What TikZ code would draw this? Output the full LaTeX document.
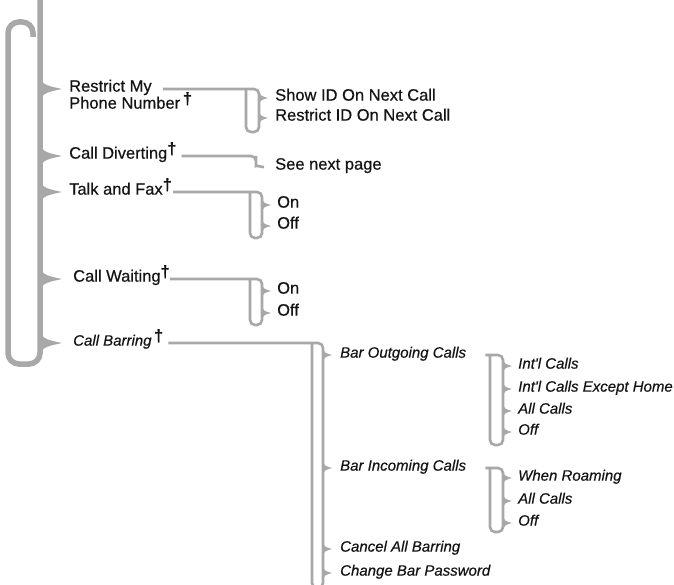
\documentclass[tikz,border=0pt]{standalone}
\usepackage{fontspec}
\setmainfont{Liberation Sans}[FakeBold=0.5]
\usepackage{tikz}
\usetikzlibrary{positioning}
\definecolor{menugray}{RGB}{168, 168, 168}
\definecolor{menutext}{RGB}{20, 20, 20}
\newcommand{\dg}{\raisebox{4.5pt}{\fontsize{16.5}{18}\selectfont\upshape\bfseries †}}
\tikzset{
  bigtip/.pic={\fill[menugray] (0,-12) .. controls (2,-4) and (8,-3) .. (22,0) .. controls (8,3) and (2,4) .. (0,12) -- cycle;},
  smalltip/.pic={\fill[menugray] (0,-7) .. controls (1,-2) and (3,-1.8) .. (9,0) .. controls (3,1.8) and (1,2) .. (0,7) -- cycle;}
}

\begin{document}
\begin{tikzpicture}[x=1pt, y=-1pt,
  every node/.style={anchor=mid west, inner sep=0pt, text=menutext},
  menu/.style={font=\fontsize{16.5}{18}\selectfont},
  submenu/.style={font=\fontsize{15}{17}\selectfont\itshape},
  spine/.style={draw=menugray, line width=5.5pt, rounded corners=11pt},
  branch/.style={draw=menugray, line width=2.6pt, rounded corners=5pt}]
  \useasboundingbox (0,0) rectangle (674,585);

  % main bracket
  \coordinate (sp) at (40,0);
  \draw[spine] (33,37) -- (33,22) -- (8,22) -- (8,364) -- (40,364) -- (40,-10);

  \node[menu] (rm) at (69,89) {Restrict My};
  \node[menu] (pn) at (69,106) {Phone Number\,\dg};
  \node[menu] (cd) at (69,156) {Call Diverting\dg};
  \node[menu] (tf) at (69,192) {Talk and Fax\dg};
  \node[menu] (cw) at (73,279) {Call Waiting\dg};
  \node[submenu] (cb) at (73,343) {Call Barring\,\dg};
  \foreach \n in {rm,cd,tf,cw,cb}
    \pic at (sp |- \n.mid west) {bigtip};

  % restrict my phone number
  \coordinate (b1) at (259,89);
  \draw[branch] ([xshift=11pt]rm.mid east) -- (b1) -- ++(0,43) -- ++(-13,0) -- ++(0,-42);
  \node[menu] (sid) at (275,98) {Show ID On Next Call};
  \node[menu] (rid) at (275,118) {Restrict ID On Next Call};
  \foreach \n in {sid,rid}
    \pic at (b1 |- \n.mid west) {smalltip};

  % call diverting
  \coordinate (b2) at (256,156);
  \node[menu] (snp) at (275,167) {See next page};
  \draw[branch] ([xshift=5pt]cd.mid east) -- (b2) -- ++(0,5) .. controls +(0,4) and +(-4,0) .. ([xshift=-11pt]snp.mid west);

  % talk and fax
  \coordinate (b3) at (262,192);
  \draw[branch] ([xshift=1pt]tf.mid east) -- (b3) -- ++(0,46) -- ++(-12,0) -- ++(0,-45);
  \node[menu] (on1) at (277,205) {On};
  \node[menu] (off1) at (277,226) {Off};
  \foreach \n in {on1,off1}
    \pic at (b3 |- \n.mid west) {smalltip};

  % call waiting
  \coordinate (b4) at (262,279);
  \draw[branch] (cw.mid east) -- (b4) -- ++(0,46) -- ++(-12,0) -- ++(0,-45);
  \node[menu] (on2) at (277,291) {On};
  \node[menu] (off2) at (277,313) {Off};
  \foreach \n in {on2,off2}
    \pic at (b4 |- \n.mid west) {smalltip};

  % call barring
  \coordinate (b5) at (323,343);
  \draw[branch] ([xshift=5pt]cb.mid east) -- (b5) -- ++(0,245) -- ++(-11,0) -- ++(0,-244);
  \node[submenu] (bo) at (340,355) {Bar Outgoing Calls};
  \node[submenu] (bi) at (340,468) {Bar Incoming Calls};
  \node[submenu] (cab) at (340,549) {Cancel All Barring};
  \node[submenu] (cbp) at (340,573) {Change Bar Password};
  \foreach \n in {bo,bi,cab,cbp}
    \pic at (b5 |- \n.mid west) {smalltip};

  % bar outgoing calls
  \coordinate (b6) at (503,355);
  \draw[branch] ([xshift=19pt]bo.mid east) -- (b6) -- ++(0,90) -- ++(-13,0) -- ++(0,-89);
  \node[submenu] (ic1) at (518,366) {Int\textquotesingle l Calls};
  \node[submenu] (ice) at (518,389) {Int\textquotesingle l Calls Except Home};
  \node[submenu] (ac1) at (518,411) {All Calls};
  \node[submenu] (of3) at (518,432) {Off};
  \foreach \n in {ic1,ice,ac1,of3}
    \pic at (b6 |- \n.mid west) {smalltip};

  % bar incoming calls
  \coordinate (b7) at (503,468);
  \draw[branch] ([xshift=19pt]bi.mid east) -- (b7) -- ++(0,64) -- ++(-13,0) -- ++(0,-63);
  \node[submenu] (wr) at (518,478) {When Roaming};
  \node[submenu] (ac2) at (518,501) {All Calls};
  \node[submenu] (of4) at (518,523) {Off};
  \foreach \n in {wr,ac2,of4}
    \pic at (b7 |- \n.mid west) {smalltip};
\end{tikzpicture}
\end{document}
